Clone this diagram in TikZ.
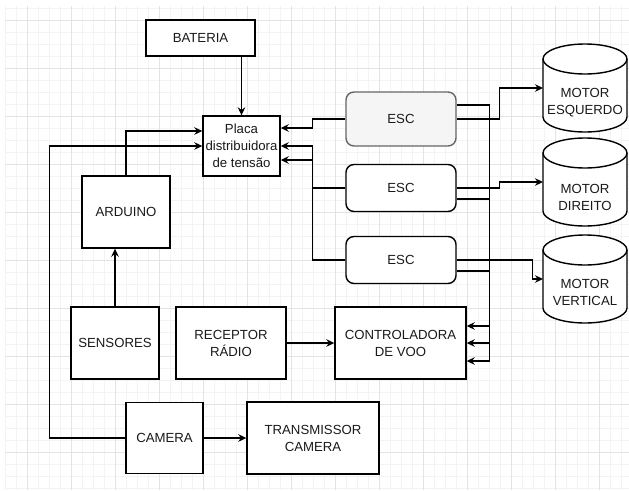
\documentclass[tikz,border=0pt]{standalone}
\usepackage{fontspec}
\setmainfont{Liberation Sans}
\usetikzlibrary{arrows.meta, calc}
\definecolor{color_text}{HTML}{1A1A1A}
\definecolor{color_line}{HTML}{000000}
\definecolor{color_esc_fill}{HTML}{F5F5F5}
\definecolor{color_esc_line}{HTML}{666666}
\definecolor{color_grid_minor}{HTML}{F3F3F3}
\definecolor{color_grid_major}{HTML}{E3E3E3}
\tikzset{
  block_box/.style={draw=color_line, line width=1.4pt, fill=white, inner sep=2pt, align=center, font=\fontsize{13.2}{17}\selectfont, text=color_text},
  esc_box/.style={block_box, rounded corners=8pt, minimum width=110pt, minimum height=47pt},
  esc_main/.style={esc_box, draw=color_esc_line, fill=color_esc_fill, minimum height=54pt},
  motor_box/.style={inner sep=0pt, outer sep=0pt, minimum width=84pt, minimum height=88pt},
  motor_line/.style={draw=color_line, line width=1.4pt, fill=white},
  motor_label/.style={align=center, font=\fontsize{13.2}{17}\selectfont, text=color_text},
  link_arrow/.style={-{Stealth[length=8pt, width=7.5pt]}, draw=color_line, line width=1.3pt},
  grid_minor/.style={draw=color_grid_minor, line width=0.8pt},
  grid_major/.style={draw=color_grid_major, line width=0.9pt},
}
\newcommand{\drawmotor}[1]{%
  \draw[motor_line] ([yshift=-15pt]#1.north west) -- ([yshift=15pt]#1.south west)
    arc[start angle=180, end angle=0, x radius=42, y radius=15] -- ([yshift=-15pt]#1.north east);
  \draw[motor_line] ([yshift=-15pt]#1.north) ellipse[x radius=42, y radius=15];
}
\begin{document}
\begin{tikzpicture}[x=1pt, y=-1pt]
  \useasboundingbox (0,0) rectangle (629,490);
  % background grid
  \foreach \gx in {5,16,...,629} \draw[grid_minor] (\gx,6) -- (\gx,490);
  \foreach \gy in {8,20,...,490} \draw[grid_minor] (5,\gy) -- (629,\gy);
  \foreach \gx in {27,71,...,629} \draw[grid_major] (\gx,6) -- (\gx,490);
  \foreach \gy in {20,68,...,490} \draw[grid_major] (5,\gy) -- (629,\gy);

  \node[block_box, minimum width=109pt, minimum height=36pt] (bateria) at (200.5,38) {BATERIA};
  \node[block_box, minimum width=77pt, minimum height=60pt, inner sep=1pt] (placa) at (241.5,146) {Placa\\distribuidora\\de tensão};
  \node[esc_main] (esc_esq) at (401,119) {ESC};
  \node[esc_box] (esc_dir) at (401,188) {ESC};
  \node[esc_box] (esc_vert) at (401,260) {ESC};
  \node[block_box, minimum width=88pt, minimum height=72pt] (arduino) at (126,212) {ARDUINO};
  \node[block_box, minimum width=88pt, minimum height=72pt] (sensores) at (115,343) {SENSORES};
  \node[block_box, minimum width=110pt, minimum height=72pt] (receptor) at (231,343) {RECEPTOR\\RÁDIO};
  \node[block_box, minimum width=131pt, minimum height=72pt] (controladora) at (400.5,343) {CONTROLADORA\\DE VOO};
  \node[block_box, minimum width=77pt, minimum height=71pt] (camera) at (164.5,438) {CAMERA};
  \node[block_box, minimum width=132pt, minimum height=72pt] (transmissor) at (313,438) {TRANSMISSOR\\CAMERA};

  % motors
  \node[motor_box] (motor_esq) at (585,88) {};
  \node[motor_box] (motor_dir) at (585,182) {};
  \node[motor_box] (motor_vert) at (585,279) {};
  \drawmotor{motor_esq}
  \drawmotor{motor_dir}
  \drawmotor{motor_vert}
  \node[motor_label] (label_esq) at ([yshift=-15pt]motor_esq.center) {MOTOR\\ESQUERDO};
  \node[motor_label] (label_dir) at ([yshift=-15pt]motor_dir.center) {MOTOR\\DIREITO};
  \node[motor_label] (label_vert) at ([yshift=-13pt]motor_vert.center) {MOTOR\\VERTICAL};

  % connectors
  \draw[link_arrow] (bateria.south -| placa.north) -- (placa.north);
  \draw[link_arrow] (sensores.north) -- (sensores.north |- arduino.south);
  \draw[link_arrow] (arduino.north) |- ([yshift=15pt]placa.west);
  \draw[link_arrow] (camera.west) -- ++(-76,0) |- (placa.west);
  \draw[link_arrow] (camera.east) -- (transmissor.west);
  \draw[link_arrow] (receptor.east) -- (controladora.west);
  \draw[link_arrow] (esc_esq.west) -- ++(-33,0) |- ([yshift=18pt]placa.east);
  \draw[link_arrow] (esc_dir.west) -- ++(-33,0) |- ([yshift=-14pt]placa.east);
  \draw[link_arrow] (esc_vert.west) -- ++(-33,0) |- (placa.east);
  \draw[link_arrow] (esc_esq.east) -- ++(43,0) |- (motor_esq.west);
  \draw[link_arrow] (esc_dir.east) -- ++(43,0) |- (motor_dir.west);
  \draw[link_arrow] (esc_vert.east) -- ++(76,0) |- (motor_vert.west);
  \draw[link_arrow] ([yshift=14pt]esc_esq.east) -- ++(33,0) |- ([yshift=-18pt]controladora.east);
  \draw[link_arrow] ([yshift=-11pt]esc_dir.east) -- ++(33,0) |- (controladora.east);
  \draw[link_arrow] ([yshift=-11pt]esc_vert.east) -- ++(33,0) |- ([yshift=17pt]controladora.east);
\end{tikzpicture}
\end{document}
